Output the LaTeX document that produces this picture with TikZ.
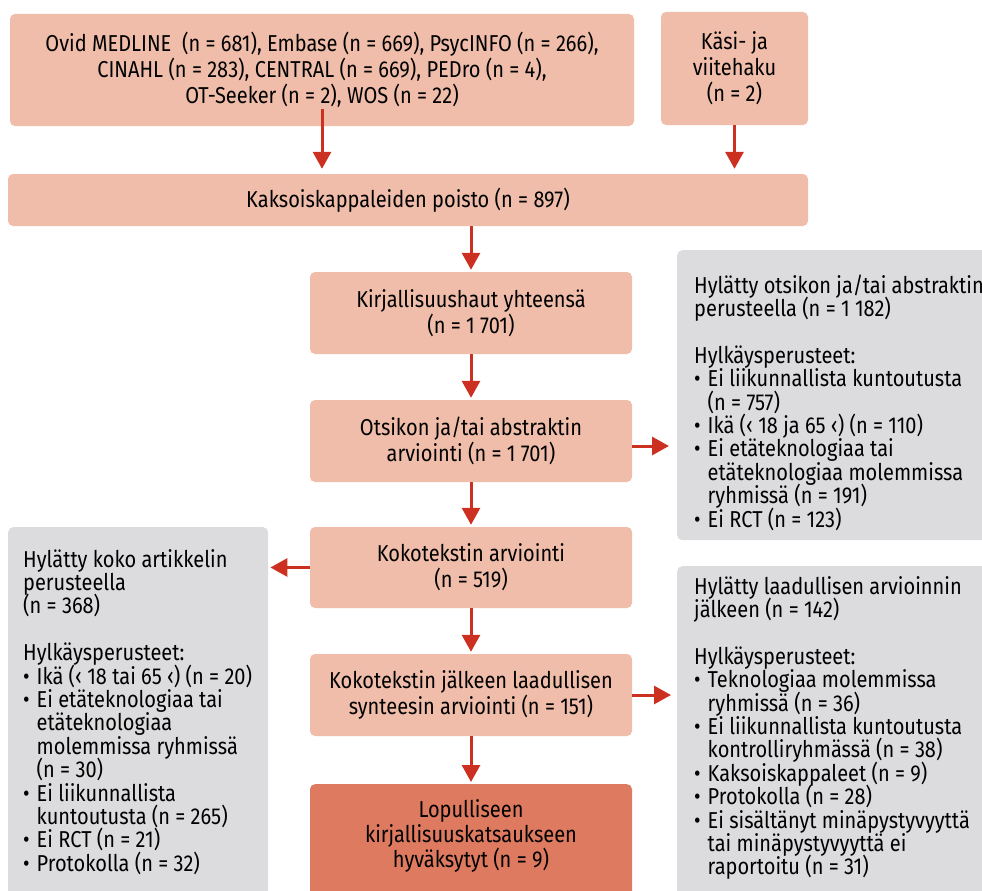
\documentclass[tikz,border=0pt]{standalone}
\usepackage{fontspec}
\setmainfont{Fira Sans}[FakeStretch=0.87]
\usetikzlibrary{arrows.meta}

\definecolor{boxsalmon}{HTML}{EFBDA9}
\definecolor{boxfinal}{HTML}{DE7A5F}
\definecolor{boxgrey}{HTML}{DCDCDE}
\definecolor{arrowred}{HTML}{CC3021}

% left-aligned stack of lines; baseline of the whole block = first line
\newcommand\rows[1]{\vtop{\baselineskip=23.4pt\lineskiplimit=-100pt\lineskip=0pt
  \halign{##\hfil\cr#1\crcr}}}
\newcommand\bul{\hbox to 13.5pt{•\hfil}}
\newcommand\ind{\kern13.5pt}

\tikzset{
  x=1pt, y=-1pt,
  stepbox/.style={fill=boxsalmon, rounded corners=5pt, inner sep=0pt, align=center,
    font=\fontsize{23}{26}\selectfont},
  finalbox/.style={fill=boxfinal, rounded corners=5pt, inner sep=0pt},
  greybox/.style={fill=boxgrey, rounded corners=5pt, inner sep=0pt, anchor=north west},
  listtext/.style={inner sep=0pt, anchor=base west, font=\fontsize{23}{23.4}\selectfont},
  flow/.style={draw=arrowred, line width=3pt, -{Triangle[width=18pt,length=17pt]},
    shorten >=2pt},
}

\begin{document}
\begin{tikzpicture}
\useasboundingbox (0,0) rectangle (982,891);

% search sources
\node[stepbox, minimum width=624pt, minimum height=112pt] (db) at (322,70)
  {Ovid MEDLINE~ (n = 681), Embase (n = 669), PsycINFO (n = 266),\\
   CINAHL (n = 283), CENTRAL (n = 669), PEDro (n = 4),\\
   OT-Seeker (n = 2), WOS (n = 22)};
\node[stepbox, minimum width=147pt, minimum height=113pt] (hand) at (734.5,68.5)
  {Käsi- ja\\viitehaku\\(n = 2)};

% main flow
\node[stepbox, minimum width=800pt, minimum height=52pt] (dedup) at (408,200)
  {Kaksoiskappaleiden poisto (n = 897)};
\node[stepbox, minimum width=322pt, minimum height=82pt] (total) at (471,313)
  {Kirjallisuushaut yhteensä\\(n = 1~701)};
\node[stepbox, minimum width=322pt, minimum height=82pt] (screen) at (471,441)
  {Otsikon ja/tai abstraktin\\arviointi (n = 1~701)};
\node[stepbox, minimum width=322pt, minimum height=81pt] (full) at (471,567.5)
  {Kokotekstin arviointi\\(n = 519)};
\node[stepbox, minimum width=322pt, minimum height=82pt] (qual) at (471,695)
  {Kokotekstin jälkeen laadullisen\\synteesin arviointi (n = 151)};
\node[finalbox, minimum width=322pt, minimum height=120pt, anchor=north] (final) at (471,784) {};
\node[inner sep=0pt, align=center, font=\fontsize{23}{25}\selectfont] (finaltext) at (471,836)
  {Lopulliseen\\kirjallisuuskatsaukseen\\hyväksytyt (n = 9)};

% exclusion boxes
\node[greybox, minimum width=320pt, minimum height=290pt] (rejscreen) at (677,250) {};
\node[listtext] (rejscreentext) at (694,293) {\rows{%
  Hylätty otsikon ja/tai abstraktin\cr
  perusteella (n = 1~182)\cr
  \cr
  Hylkäysperusteet:\cr
  \bul Ei liikunnallista kuntoutusta\cr
  \ind (n = 757)\cr
  \bul Ikä (‹ 18 ja 65 ‹) (n = 110)\cr
  \bul Ei etäteknologiaa tai\cr
  \ind etäteknologiaa molemmissa\cr
  \ind ryhmissä (n = 191)\cr
  \bul Ei RCT (n = 123)}};

\node[greybox, minimum width=260pt, minimum height=380pt] (rejfull) at (8,527) {};
\node[listtext] (rejfulltext) at (23,567) {\rows{%
  Hylätty koko artikkelin\cr
  perusteella\cr
  (n = 368)\cr
  \cr
  Hylkäysperusteet:\cr
  \bul Ikä (‹ 18 tai 65 ‹) (n = 20)\cr
  \bul Ei etäteknologiaa tai\cr
  \ind etäteknologiaa\cr
  \ind molemmissa ryhmissä\cr
  \ind (n = 30)\cr
  \bul Ei liikunnallista\cr
  \ind kuntoutusta (n = 265)\cr
  \bul Ei RCT (n = 21)\cr
  \bul Protokolla (n = 32)}};

\node[greybox, minimum width=320pt, minimum height=340pt] (rejqual) at (677,566) {};
\node[listtext] (rejqualtext) at (694,594) {\rows{%
  Hylätty laadullisen arvioinnin\cr
  jälkeen (n = 142)\cr
  \cr
  Hylkäysperusteet:\cr
  \bul Teknologiaa molemmissa\cr
  \ind ryhmissä (n = 36)\cr
  \bul Ei liikunnallista kuntoutusta\cr
  \ind kontrolliryhmässä (n = 38)\cr
  \bul Kaksoiskappaleet (n = 9)\cr
  \bul Protokolla (n = 28)\cr
  \bul Ei sisältänyt minäpystyvyyttä\cr
  \ind tai minäpystyvyyttä ei\cr
  \ind raportoitu (n = 31)}};

% connectors
\draw[flow, shorten <=-17pt, shorten >=5pt] (db.south) -- (db.south |- dedup.north);
\draw[flow, shorten >=5pt] (hand.south) -- (hand.south |- dedup.north);
\draw[flow] (total.north |- dedup.south) -- (total.north);
\draw[flow] (total) -- (screen);
\draw[flow] (screen) -- (full);
\draw[flow] (full) -- (qual);
\draw[flow] (qual) -- (final);
\coordinate (screenout) at ([yshift=-5pt]screen.east);
\draw[flow, shorten >=8pt] (screenout) -- (screenout -| rejscreen.west);
\draw[flow, shorten >=2pt] (full.west) -- (full.west -| rejfull.east);
\draw[flow, shorten >=6pt] (qual.east) -- (qual.east -| rejqual.west);
\end{tikzpicture}
\end{document}
